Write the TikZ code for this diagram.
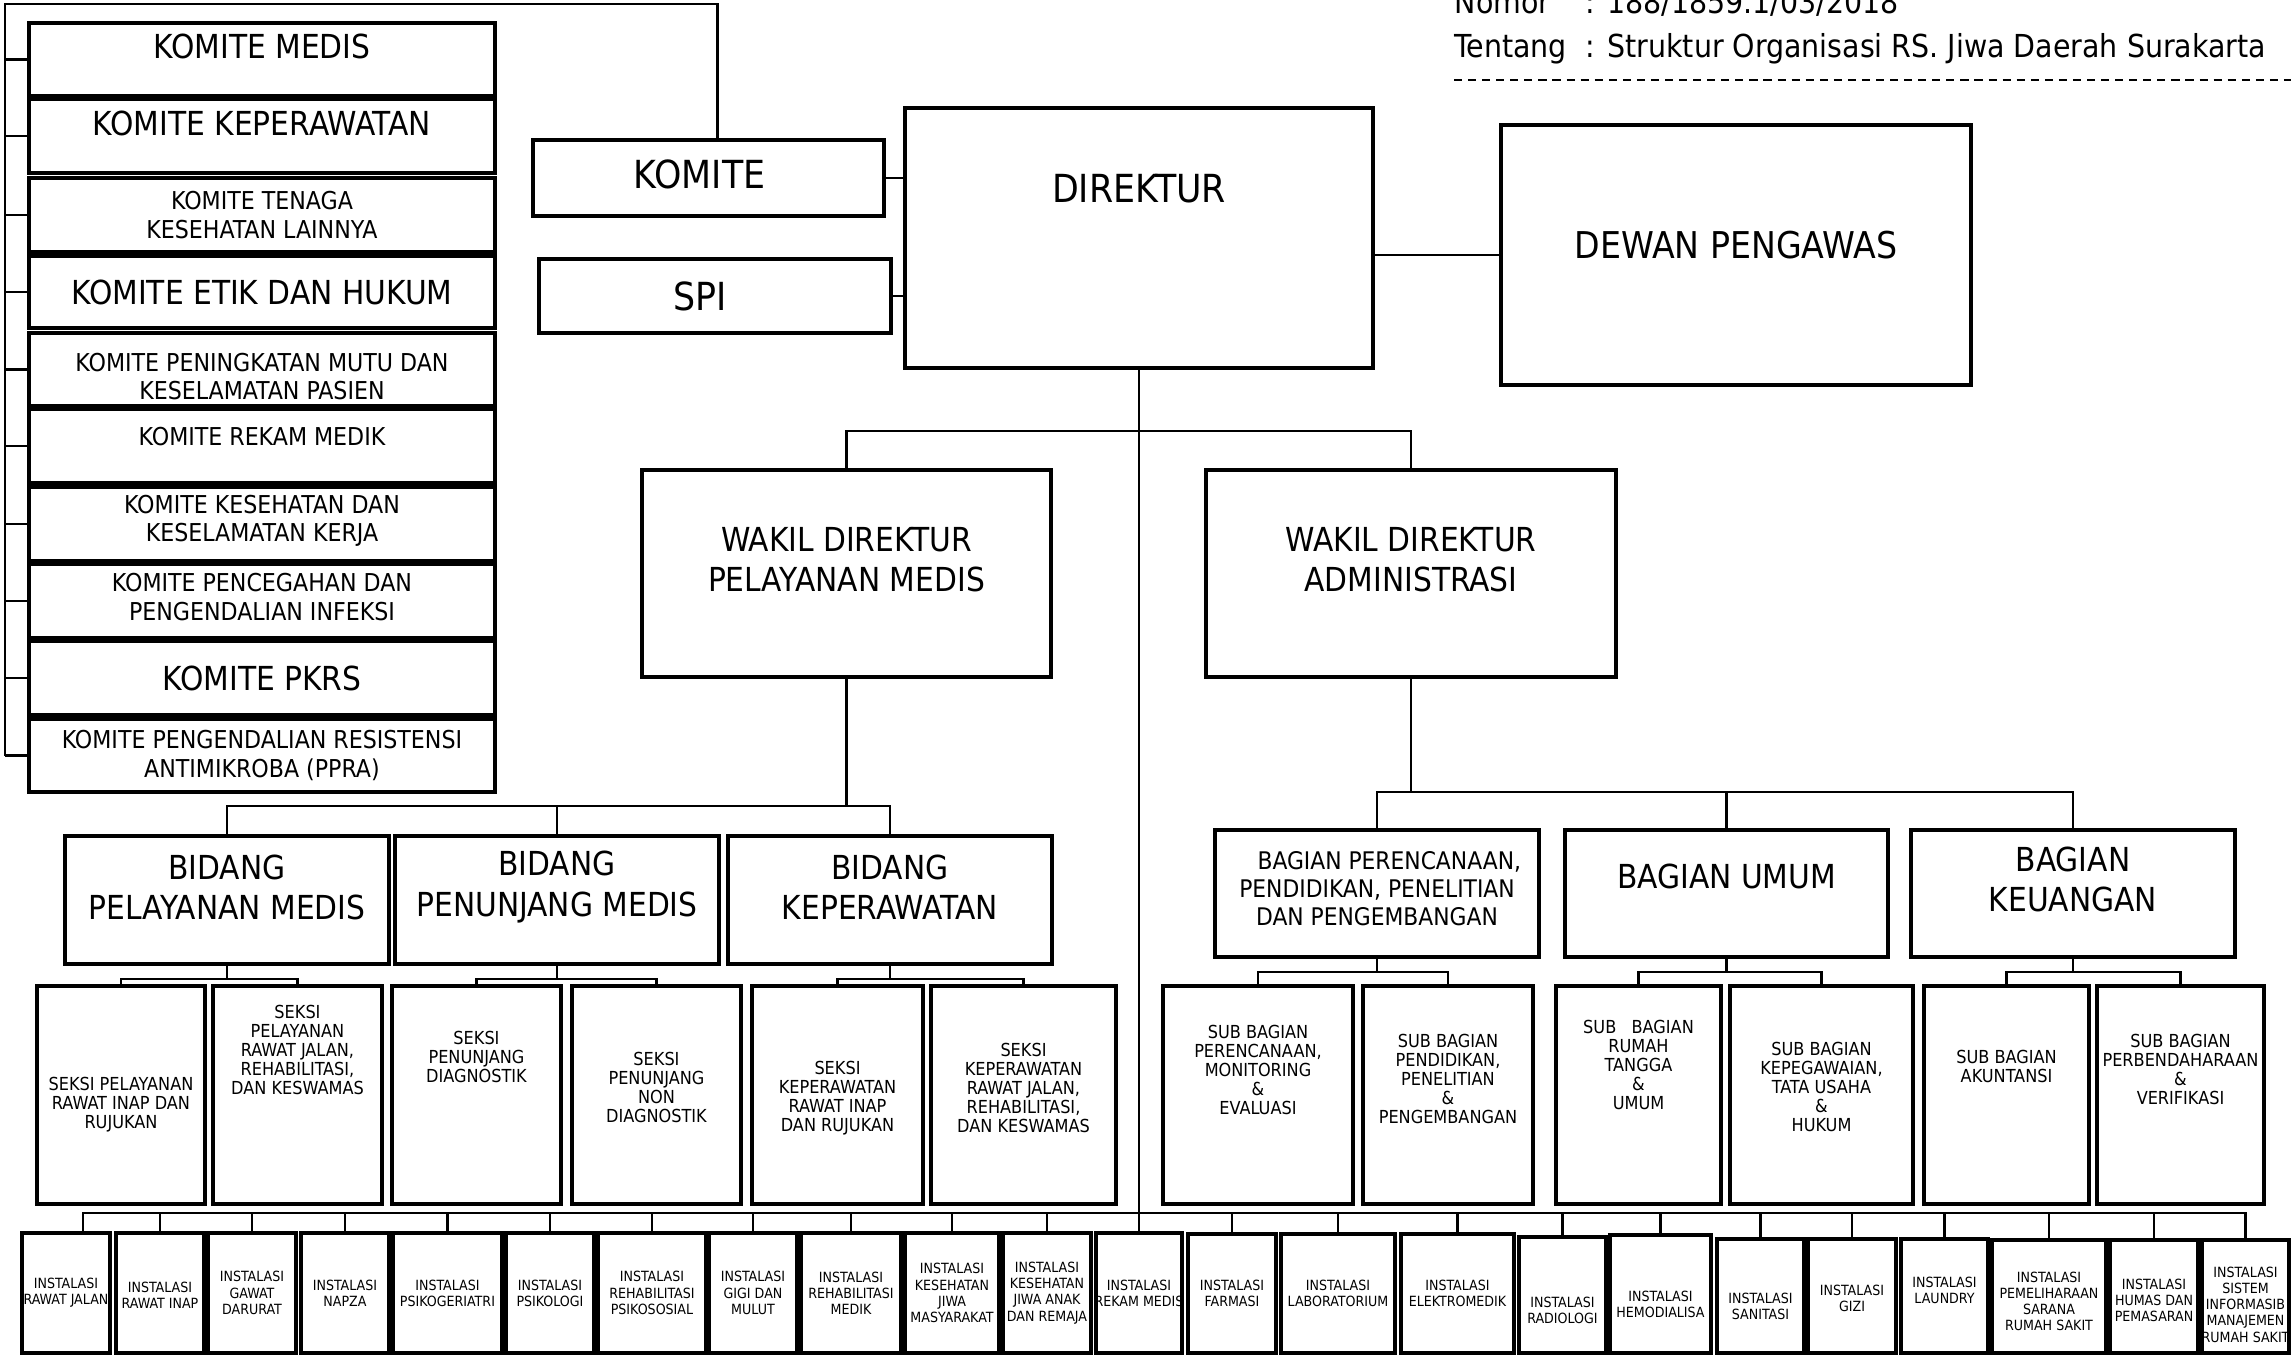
\documentclass[tikz,border=0pt]{standalone}
\usepackage{fontspec}
\setmainfont{DejaVu Sans Condensed}
\tikzset{
    org-box/.style = {draw, fill=white, line width=0.9pt, rectangle, inner sep=0pt},
    org-text/.style = {align=center, inner sep=0pt},
    org-line/.style = {line width=0.6pt},
    org-head/.style = {anchor=base west, inner sep=0pt, font=\sizeHead},
}
\newcommand\sizeHead{\fontsize{9}{12}\selectfont}
\newcommand\sizeTop{\fontsize{11}{13}\selectfont}
\newcommand\sizeDewan{\fontsize{10.5}{13}\selectfont}
\newcommand\sizeMain{\fontsize{9.4}{11.4}\selectfont}
\newcommand\sizeKom{\fontsize{7}{8}\selectfont}
\newcommand\sizeBag{\fontsize{6.9}{8}\selectfont}
\newcommand\sizeSeksi{\fontsize{5.1}{5.4}\selectfont}
\newcommand\sizeInst{\fontsize{4}{4.6}\selectfont}
% box from (x1,y1) to (x2,y2) in pixels, text moved by [dx] and raised by #6 pixels
\newcommand\orgbox[9][0]{%
  \pgfmathsetmacro\boxw{(#5-#3)*0.01}%
  \pgfmathsetmacro\boxh{(#6-#4)*0.01}%
  \node[org-box, minimum width=\boxw cm, minimum height=\boxh cm] (#2) at ({(#3+#5)/2},{(#4+#6)/2}) {};
  \node[org-text, font=#8] (#2-txt) at ([xshift=#1*0.01cm, yshift=#7*0.01cm]#2.center) {#9};
}

\begin{document}
\begin{tikzpicture}[x=0.01cm, y=-0.01cm]
\useasboundingbox (0,0) rectangle (2291,1356);
\clip (0,0) rectangle (2291,1356);
\fill[white] (0,0) rectangle (2291,1356);

\node[org-head] (nomor) at (1454,13) {Nomor};
\node[org-head] (nomor-isi) at (1585,13) {: 188/1859.1/03/2018};
\node[org-head] (tentang) at (1454,57) {Tentang};
\node[org-head] (tentang-isi) at (1585,57) {: Struktur Organisasi RS. Jiwa Daerah Surakarta};
\coordinate (garis-a) at (1454,80);
\coordinate (garis-b) at (2291,80);
\draw[line width=0.5pt, dash pattern=on 2.3pt off 1.7pt] (garis-a) -- (garis-b);

\orgbox[-9]{komite}{533}{140}{884}{216}{4}{\sizeTop}{KOMITE}
\orgbox[-15]{spi}{539}{259}{891}{333}{0}{\sizeTop}{SPI}
\orgbox{dir}{905}{108}{1373}{368}{49}{\sizeTop}{DIREKTUR}
\orgbox{dewan}{1501}{125}{1971}{385}{10}{\sizeDewan}{DEWAN PENGAWAS}
\orgbox{wpm}{642}{470}{1051}{677}{14}{\sizeMain}{WAKIL DIREKTUR\\PELAYANAN MEDIS}
\orgbox{wadm}{1206}{470}{1616}{677}{14}{\sizeMain}{WAKIL DIREKTUR\\ADMINISTRASI}

\foreach \n/\ya/\yb/\dy/\f/\txt in {
    medis/23/96/13/\sizeMain/{KOMITE MEDIS},
    kep/99/173/13/\sizeMain/{KOMITE KEPERAWATAN},
    tenaga/178/252/0/\sizeKom/{KOMITE TENAGA\\KESEHATAN LAINNYA},
    etik/256/328/0/\sizeMain/{KOMITE ETIK DAN HUKUM},
    mutu/333/406/-7/\sizeKom/{KOMITE PENINGKATAN MUTU DAN\\KESELAMATAN PASIEN},
    rekam/409/483/9/\sizeKom/{KOMITE REKAM MEDIK},
    k3/487/561/3/\sizeKom/{KOMITE KESEHATAN DAN\\KESELAMATAN KERJA},
    ppi/564/638/4/\sizeKom/{KOMITE PENCEGAHAN DAN\\PENGENDALIAN INFEKSI},
    pkrs/641/715/0/\sizeMain/{KOMITE PKRS},
    ppra/719/792/0/\sizeKom/{KOMITE PENGENDALIAN RESISTENSI\\ANTIMIKROBA (PPRA)}}
  {\orgbox{km-\n}{29}{\ya}{495}{\yb}{\dy}{\f}{\txt}}

\foreach \n/\xa/\xb/\txt in {
    bpm/65/389/{BIDANG\\PELAYANAN MEDIS},
    bpn/395/719/{BIDANG\\PENUNJANG MEDIS},
    bkp/728/1052/{BIDANG\\KEPERAWATAN}}
  {\orgbox{\n}{\xa}{836}{\xb}{964}{13}{\sizeMain}{\txt}}

\foreach \n/\xa/\xb/\dy/\txt in {
    s1/37/205/-10/{SEKSI PELAYANAN\\RAWAT INAP DAN\\RUJUKAN},
    s2/213/382/45/{SEKSI\\PELAYANAN\\RAWAT JALAN,\\REHABILITASI,\\DAN KESWAMAS},
    s3/392/561/38/{SEKSI\\PENUNJANG\\DIAGNOSTIK},
    s4/572/741/8/{SEKSI\\PENUNJANG\\NON\\DIAGNOSTIK},
    s5/752/923/-3/{SEKSI\\KEPERAWATAN\\RAWAT INAP\\DAN RUJUKAN},
    s6/931/1116/7/{SEKSI\\KEPERAWATAN\\RAWAT JALAN,\\REHABILITASI,\\DAN KESWAMAS}}
  {\orgbox{\n}{\xa}{986}{\xb}{1204}{\dy}{\sizeSeksi}{\txt}}

\orgbox{bg-ppp}{1215}{830}{1539}{957}{5}{\sizeBag}{\hspace*{7pt}BAGIAN PERENCANAAN,\\PENDIDIKAN, PENELITIAN\\DAN PENGEMBANGAN}
\orgbox{bg-umum}{1565}{830}{1888}{957}{17}{\sizeMain}{BAGIAN UMUM}
\orgbox{bg-keu}{1911}{830}{2235}{957}{14}{\sizeMain}{BAGIAN\\KEUANGAN}

\foreach \n/\xa/\xb/\dy/\txt in {
    sb1/1163/1353/25/{SUB BAGIAN\\PERENCANAAN,\\MONITORING\\\&\\EVALUASI},
    sb2/1363/1533/16/{SUB BAGIAN\\PENDIDIKAN,\\PENELITIAN\\\&\\PENGEMBANGAN},
    sb3/1556/1721/30/{SUB\ \ \ BAGIAN\\RUMAH\\TANGGA\\\&\\UMUM},
    sb4/1730/1913/8/{SUB BAGIAN\\KEPEGAWAIAN,\\TATA USAHA\\\&\\HUKUM},
    sb5/1924/2089/29/{SUB BAGIAN\\AKUNTANSI},
    sb6/2097/2264/26/{SUB BAGIAN\\PERBENDAHARAAN\\\&\\VERIFIKASI}}
  {\orgbox{\n}{\xa}{986}{\xb}{1204}{\dy}{\sizeSeksi}{\txt}}

\foreach \n/\xa/\xb/\ya/\dy/\txt in {
    1/22/110/1233/0/{INSTALASI\\RAWAT JALAN},
    2/116/204/1233/-2/{INSTALASI\\RAWAT INAP},
    3/208/296/1233/0/{INSTALASI\\GAWAT\\DARURAT},
    4/301/389/1233/0/{INSTALASI\\NAPZA},
    5/393/502/1233/0/{INSTALASI\\PSIKOGERIATRI},
    6/506/594/1233/0/{INSTALASI\\PSIKOLOGI},
    7/598/706/1233/0/{INSTALASI\\REHABILITASI\\PSIKOSOSIAL},
    8/709/797/1233/0/{INSTALASI\\GIGI DAN\\MULUT},
    9/801/901/1233/0/{INSTALASI\\REHABILITASI\\MEDIK},
    10/905/999/1233/0/{INSTALASI\\KESEHATAN\\JIWA\\MASYARAKAT},
    11/1003/1091/1233/0/{INSTALASI\\KESEHATAN\\JIWA ANAK\\DAN REMAJA},
    12/1096/1182/1233/0/{INSTALASI\\REKAM MEDIS},
    13/1188/1276/1234/0/{INSTALASI\\FARMASI},
    14/1281/1395/1234/0/{INSTALASI\\LABORATORIUM},
    15/1401/1514/1234/0/{INSTALASI\\ELEKTROMEDIK},
    16/1519/1606/1237/-15/{INSTALASI\\RADIOLOGI},
    17/1610/1711/1235/-10/{INSTALASI\\HEMODIALISA},
    18/1717/1804/1239/-10/{INSTALASI\\SANITASI},
    19/1808/1896/1239/-2/{INSTALASI\\GIZI},
    20/1901/1988/1239/6/{INSTALASI\\LAUNDRY},
    21/1992/2106/1240/-5/{INSTALASI\\PEMELIHARAAN\\SARANA\\RUMAH SAKIT},
    22/2110/2198/1240/-4/{INSTALASI\\HUMAS DAN\\PEMASARAN},
    23/2202/2289/1240/-8/{INSTALASI\\SISTEM\\INFORMASIB\\MANAJEMEN\\RUMAH SAKIT}}
  {\orgbox{i\n}{\xa}{\ya}{\xb}{1353}{\dy}{\sizeInst}{\txt}}

\coordinate (km-top) at (5,4);
\draw[org-line] ([xshift=0.09cm]komite.north) |- (km-top) -- (km-top |- km-ppra.west);
\foreach \n in {medis,kep,tenaga,etik,mutu,rekam,k3,ppi,pkrs,ppra}
  \draw[org-line] (km-top |- km-\n.west) -- (km-\n.west);

\draw[org-line] (komite.east) -- (komite.east -| dir.west);
\draw[org-line] (spi.east) -- (spi.east -| dir.west);
\draw[org-line] (dewan.west) -- (dewan.west -| dir.east);

\coordinate (wakil-bar) at (1138,431);
\coordinate (inst-bar) at (1138,1213);
\draw[org-line] (wpm.north) |- (wakil-bar) -| (wadm.north);
\draw[org-line] (dir.south) -- (dir.south |- inst-bar);

\coordinate (bidang-bar) at (843,806);
\draw[org-line] (wpm.south) -- (wpm.south |- bidang-bar);
\draw[org-line] (bpm.north) |- (bidang-bar) -| (bkp.north);
\draw[org-line] (bpn.north) -- (bpn.north |- bidang-bar);

\coordinate (bagian-bar) at (1426,792);
\draw[org-line] (wadm.south) -- (wadm.south |- bagian-bar);
\draw[org-line] (bg-ppp.north) |- (bagian-bar) -| (bg-keu.north);
\draw[org-line] (bg-umum.north) -- (bg-umum.north |- bagian-bar);

\foreach \p/\a/\b in {bpm/s1/s2, bpn/s3/s4, bkp/s5/s6, bg-ppp/sb1/sb2, bg-umum/sb3/sb4, bg-keu/sb5/sb6}
  \draw[org-line] (\p.south) -- ([yshift=-0.13cm]\p.south)
    (\a.north) |- ([yshift=-0.13cm]\p.south) -| (\b.north);

\draw[org-line] ([xshift=0.17cm]i1.north) |- (inst-bar) -| (i23.north);
\foreach \k in {2,...,22}
  \draw[org-line] (i\k.north) -- (i\k.north |- inst-bar);
\end{tikzpicture}
\end{document}
